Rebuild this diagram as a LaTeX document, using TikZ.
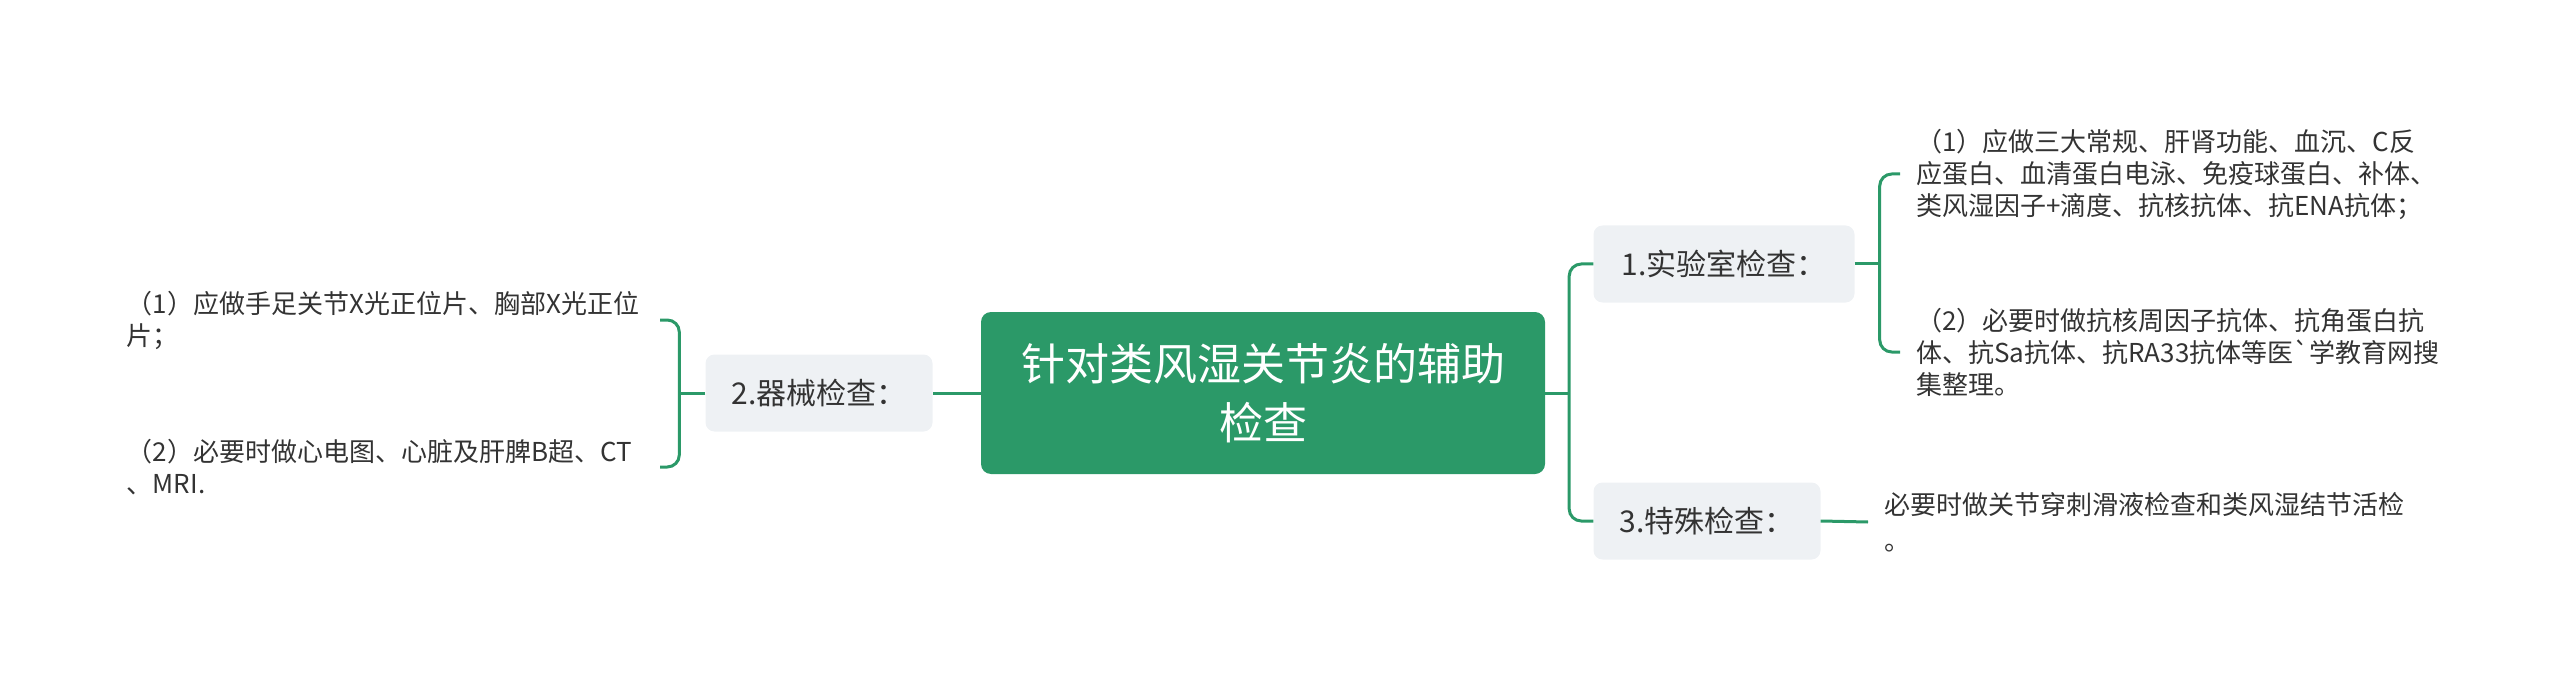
\documentclass[tikz,border=0pt]{standalone}
\usepackage{fontspec}
\setmainfont{Noto Sans CJK SC}
\usetikzlibrary{calc}
\definecolor{mapgreen}{RGB}{43,153,104}
\definecolor{boxgrey}{RGB}{238,241,244}
\definecolor{inkgrey}{RGB}{51,51,51}

\begin{document}
\begin{tikzpicture}[x=1pt,y=-1pt,
  root/.style={fill=mapgreen,rounded corners=10pt,text=white,align=center,font=\fontsize{44}{59}\selectfont,minimum width=564pt,minimum height=162pt},
  topic/.style={fill=boxgrey,rounded corners=9pt,text=inkgrey,font=\fontsize{30}{36}\selectfont,minimum height=77pt},
  leaf/.style={text=inkgrey,align=left,inner xsep=16pt,inner ysep=0pt,font=\fontsize{26}{32}\selectfont},
  link/.style={draw=mapgreen,line width=3pt,rounded corners=12pt}]
            \useasboundingbox (0,0) rectangle (2560,679);
            \node[root] (A) at (1263,393) {针对类风湿关节炎的辅助\\检查};
            \node[topic,minimum width=227pt] (B) at (819,393) {2.器械检查：};
            \node[topic,minimum width=261pt] (C) at (1724,264) {1.实验室检查：};
            \node[topic,minimum width=227pt] (D) at (1707,521) {3.特殊检查：};

            \node[leaf,text width=517pt,anchor=east] (E) at (660,320) {（1）应做手足关节X光正位片、胸部X光正位\\片；};
            \node[leaf,text width=517pt,anchor=east] (F) at (660,467) {（2）必要时做心电图、心脏及肝脾B超、CT\\、MRI.};
            \node[leaf,text width=540pt,anchor=west] (G) at (1900,174) {（1）应做三大常规、肝肾功能、血沉、C反\\应蛋白、血清蛋白电泳、免疫球蛋白、补体、\\类风湿因子+滴度、抗核抗体、抗ENA抗体；};
            \node[leaf,text width=540pt,anchor=west] (H) at (1900,352) {（2）必要时做抗核周因子抗体、抗角蛋白抗\\体、抗Sa抗体、抗RA33抗体等医\textasciigrave 学教育网搜\\集整理。};
            \node[leaf,text width=540pt,anchor=west] (I) at (1868,522) {必要时做关节穿刺滑液检查和类风湿结节活检\\[4pt]。};

            \coordinate (J) at ($(B.west)+(-26,0)$);
            \coordinate (K) at ($(A.east)+(24,0)$);
            \coordinate (L) at ($(C.east)+(25,0)$);

            \draw[link] (A.west) -- (B.east);
            \draw[link] (B.west) -- (J);
            \draw[link] (E.east) -| (J) |- (F.east);
            \draw[link] (A.east) -- (K);
            \draw[link] (C.west) -| (K) |- (D.west);
            \draw[link] (C.east) -- (L);
            \draw[link] (G.west) -| (L) |- (H.west);
            \draw[link] (D.east) -- (I.west);
          \end{tikzpicture}
\end{document}
